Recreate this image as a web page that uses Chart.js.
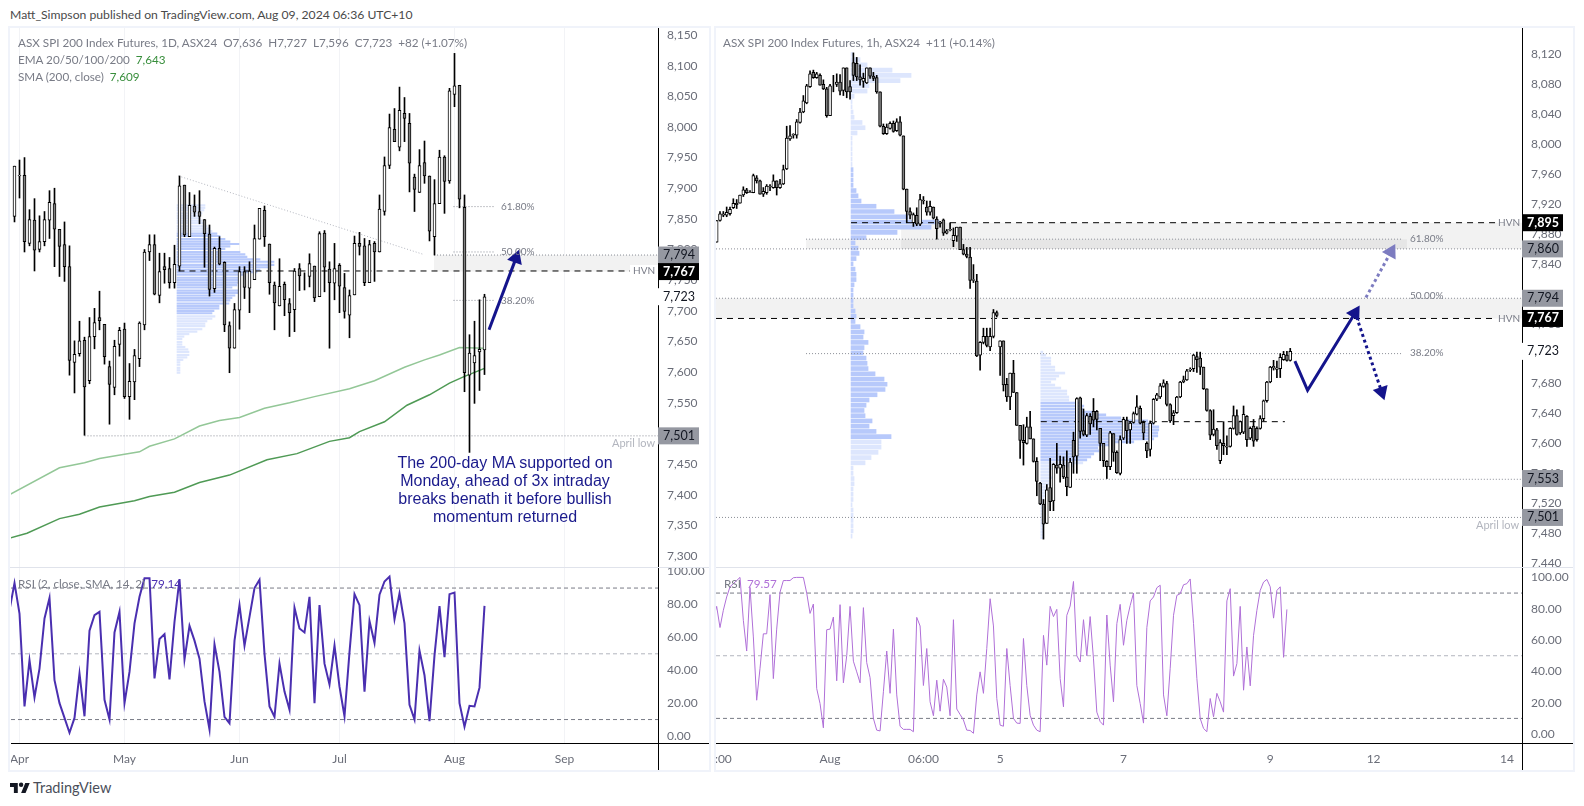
<!DOCTYPE html>
<html>
<head>
<meta charset="utf-8">
<title>ASX SPI 200 Index Futures</title>
<script src="https://cdn.jsdelivr.net/npm/chart.js@4"></script>
<style>
  html, body { margin: 0; padding: 0; background: #fff; width: 1584px; height: 806px; overflow: hidden; }
  body { font-family: Lato, sans-serif; color: #787b86; }
  canvas { position: absolute; }
  .frame { position: absolute; background: #f0f3fa; }
  .axis { position: absolute; background: #000; }
  .sep { position: absolute; background: #e0e3eb; height: 1px; }
  .txt { position: absolute; white-space: pre; font-size: 11.7px; line-height: 16px; z-index: 5; }
  .green { color: #388e3c; }
  #note { position: absolute; left: 360px; top: 454px; width: 290px; text-align: center; font: 16px/18px "Liberation Sans", sans-serif; color: #1a1a8c; z-index: 5; }
</style>
</head>
<body>
<div class="txt" style="left:10px;top:7px;font-size:12.2px;color:#4a4a4a;">Matt_Simpson published on TradingView.com, Aug 09, 2024 06:36 UTC+10</div>

<div class="frame" style="left:8px;top:26px;width:2px;height:746px"></div>
<div class="frame" style="left:8px;top:26px;width:702px;height:2px"></div>
<div class="frame" style="left:8px;top:770px;width:702px;height:2px"></div>
<div class="frame" style="left:709px;top:26px;width:2px;height:746px"></div>
<div class="frame" style="left:714px;top:26px;width:2px;height:746px"></div>
<div class="frame" style="left:714px;top:26px;width:861px;height:2px"></div>
<div class="frame" style="left:714px;top:770px;width:861px;height:2px"></div>
<div class="frame" style="left:1573px;top:26px;width:2px;height:746px"></div>

<canvas id="dailyChart" width="698" height="540" style="left:11px;top:28px"></canvas>
<canvas id="dailyRsi" width="698" height="202" style="left:11px;top:568px"></canvas>
<canvas id="hourChart" width="857" height="540" style="left:716px;top:28px"></canvas>
<canvas id="hourRsi" width="857" height="202" style="left:716px;top:568px"></canvas>

<div class="sep" style="left:10px;top:567px;width:699px"></div>
<div class="sep" style="left:716px;top:567px;width:857px"></div>
<div class="axis" style="left:658px;top:743px;width:1px;height:27px"></div>
<div class="axis" style="left:1522px;top:743px;width:1px;height:27px"></div>
<div class="axis" style="left:11px;top:743px;width:698px;height:1px"></div>
<div class="axis" style="left:716px;top:743px;width:857px;height:1px"></div>

<div class="txt" style="left:18px;top:34px">ASX SPI 200 Index Futures, 1D, ASX24  O7,636  H7,727  L7,596  C7,723  +82 (+1.07%)</div>
<div class="txt" style="left:18px;top:51px">EMA 20/50/100/200  <span class="green">7,643</span></div>
<div class="txt" style="left:18px;top:68px">SMA (200, close)  <span class="green">7,609</span></div>
<div class="txt" style="left:723px;top:34px">ASX SPI 200 Index Futures, 1h, ASX24  +11 (+0.14%)</div>
<div class="txt" style="left:18px;top:575px">RSI (2, close, SMA, 14, 2)  <span style="color:#4a2fb0">79.14</span></div>
<div class="txt" style="left:724px;top:575px">RSI  <span style="color:#b070d8">79.57</span></div>

<div id="note">The 200-day MA supported on<br>Monday, ahead of 3x intraday<br>breaks benath it before bullish<br>momentum returned</div>

<svg style="position:absolute;left:10px;top:781px" width="20" height="14" viewBox="0 2 36 22"><path fill="#131722" d="M14 22H7V11H0V4h14v18zM28 22h-8l7.5-18h8L28 22z"/><circle fill="#131722" cx="20" cy="7" r="4"/></svg>
<div class="txt" style="left:33px;top:780px;font-size:14.5px;color:#4a4e59">TradingView</div>

<script>
// daily candles, Apr to Aug
const dailyOpen = [7854,7920,7921,7810,7848,7800,7813,7848,7875,7833,
  7808,7772,7616,7630,7652,7586,7658,7689,7678,7609,
  7575,7645,7670,7560,7584,7622,7677,7796,7808,7725,
  7772,7769,7746,7773,7905,7821,7871,7862,7849,7825,
  7736,7802,7779,7676,7639,7701,7764,7737,7751,7817,
  7864,7809,7742,7708,7743,7712,7702,7769,7758,7756,
  7773,7723,7827,7768,7745,7774,7738,7693,7726,7810,
  7806,7746,7810,7796,7862,7937,7996,7967,8022,8006,
  7918,7893,7942,7920,7821,7875,7951,7912,8053,8068,
  7869,7595,7615,7633,7636];
const dailyHigh = [7936,7946,7950,7865,7883,7855,7862,7896,7900,7833,
  7845,7806,7651,7683,7657,7689,7704,7732,7678,7618,
  7652,7673,7680,7614,7637,7682,7800,7824,7824,7794,
  7794,7787,7807,7920,7905,7893,7889,7896,7849,7840,
  7804,7821,7780,7682,7712,7772,7772,7780,7840,7867,
  7871,7809,7747,7785,7747,7720,7769,7777,7762,7793,
  7773,7829,7831,7780,7810,7777,7761,7734,7822,7828,
  7818,7815,7813,7889,7951,8021,8030,8065,8048,8022,
  7923,7963,7977,7920,7914,7962,7953,8063,8120,8068,
  7889,7661,7683,7718,7727];
const dailyLow = [7845,7884,7796,7806,7765,7796,7806,7818,7772,7756,
  7748,7595,7566,7626,7497,7581,7638,7669,7613,7515,
  7563,7626,7557,7523,7555,7609,7669,7782,7726,7713,
  7745,7737,7737,7765,7821,7821,7854,7842,7771,7724,
  7730,7775,7666,7599,7639,7670,7720,7697,7751,7817,
  7805,7727,7669,7708,7692,7658,7666,7733,7734,7739,
  7715,7723,7731,7639,7718,7697,7688,7656,7726,7791,
  7741,7746,7748,7796,7856,7932,7976,7961,7976,7894,
  7862,7893,7908,7814,7791,7875,7859,7908,8033,7868,
  7568,7469,7549,7570,7596];
const dailyClose = [7936,7921,7813,7849,7799,7813,7849,7877,7833,7805,
  7772,7619,7629,7651,7576,7658,7681,7684,7625,7580,
  7642,7668,7560,7585,7627,7680,7796,7808,7727,7764,
  7767,7746,7776,7904,7824,7872,7861,7854,7826,7735,
  7802,7776,7677,7639,7702,7764,7738,7765,7818,7867,
  7821,7746,7713,7740,7718,7697,7765,7757,7758,7777,
  7721,7826,7771,7746,7769,7740,7699,7725,7810,7805,
  7746,7808,7796,7866,7937,7999,7976,8027,8014,7941,
  7898,7937,7920,7830,7875,7951,7911,8059,8067,7882,
  7599,7631,7627,7637,7723];

// moving averages (bar index, price)
const emaBars = [-1,9,14,17,22,25,27,32,37,41,45,50,55,60,67,72,78,82,85,89,94];
const emaValues = [7400,7444,7452,7459,7466,7470,7479,7491,7512,7521,7526,7541,7550,7560,7573,7586,7608,7620,7628,7640,7639];
const smaBars = [-1,2.5,9,13,17,24,27,32,37,43,50.5,56.5,63,67,69,74,78.5,83,87,90,94];
const smaValues = [7329,7337,7361,7368,7380,7390,7397,7404,7420,7432,7457,7467,7487,7493,7503,7519,7546,7563,7582,7593,7606];

// daily RSI, first value sits one bar before the first candle
const dailyRsiValues = [76.6,93,74.5,18,46,23.5,41,71.5,84,34,20,11,2,11,38,12,64,73.5,75.5,22,10,63,75.5,20,39,68.5,84.7,96,96,35,59,62,34.4,69.5,95.4,46.6,67,58,47,21,4,55.7,39,11.7,7.7,58,79.6,55,72.5,90,95,50,18,11.7,44,27,16,78,65.4,63,84.7,20,79.6,44,31.4,55,30,12,51,86.3,79.6,27,70,56.7,86,94,97,71,86.7,68.5,19,10,52,37,9,49,79,48,86.3,87.3,20,5.7,18.4,18,29.4,79.14];

// daily volume profile
const dailyVpPrices = [7872,7868,7864,7859,7855,7851,7847,7843,7838,7834,7830,7826,7822,7817,7813,7809,7805,7801,7796,7792,7788,7784,7780,7775,7771,7767,7763,7759,7754,7750,7746,7742,7738,7733,7729,7725,7721,7717,7712,7708,7704,7700,7696,7691,7687,7683,7679,7675,7670,7666,7662,7658,7654,7649,7645,7641,7637,7633,7628,7624,7620,7616,7612,7607,7603,7599];
const dailyVpVolumes = [28,28,27,25,22,23,25,27,30,33,35,40,43,48,53,62,53,48,63,68,70,83,97,97,92,83,80,67,63,62,62,60,55,62,62,58,55,53,52,42,42,37,35,38,35,30,28,28,25,20,12,7,5,5,5,8,11,12,12,10,6,3,3,3,3,3];

const dailyPriceTicks = [7300,7350,7400,7450,7500,7550,7600,7650,7700,7750,7800,7850,7900,7950,8000,8050,8100,8150];
const dailyMonthBars = [1,22,45,65,88,110];
const dailyMonthLabels = ['Apr','May','Jun','Jul','Aug','Sep'];
const dailyTagPrices = [7791,7764,7723,7496];
const dailyTagLabels = ['7,794','7,767','7,723','7,501'];
const dailyTagKinds = ['grey','black','plain','grey'];

// hourly candles
const hourOpen = [7869,7898,7905,7905,7907,7915,7921,7921,7932,7939,
  7936,7935,7955,7951,7933,7935,7944,7942,7951,7942,
  7947,7967,8007,8012,8012,8029,8043,8055,8077,8096,
  8089,8092,8080,8074,8038,8080,8080,8083,8072,8102,
  8077,8109,8108,8090,8084,8082,8102,8091,8089,8070,
  8024,8014,8021,8028,8018,8030,8011,7940,7910,7895,
  7905,7893,7925,7916,7909,7916,7900,7894,
  7899,7881,7885,7871,7877,7889,7859,7853,7849,7818,
  7817,7718,7735,7743,7729,7743,7775,7729,7737,7679,
  7662,7694,7668,7624,7604,7600,7622,7606,7576,7547,
  7519,7493,7541,7523,7571,7567,7571,7555,7541,7604,
  7583,7661,7617,7611,7636,7643,7643,7620,7600,7576,
  7569,7613,7588,7560,7607,7631,7618,7628,7639,7647,
  7628,7600,7592,7627,7659,7662,7676,7680,7652,7637,
  7641,7662,7682,7685,7698,7700,7716,7714,7702,7673,
  7644,7612,7618,7577,7600,7595,7596,7620,7637,7614,
  7615,7636,7607,7623,7620,7620,7633,7657,7682,7701,
  7699,7700,7712,7718,7711];
const hourHigh = [7898,7910,7910,7916,7916,7927,7926,7932,7943,7941,
  7938,7960,7958,7952,7942,7946,7946,7959,7951,7953,
  7972,8024,8025,8014,8033,8048,8065,8080,8098,8099,
  8096,8094,8086,8076,8080,8092,8094,8093,8102,8102,
  8085,8122,8116,8106,8095,8102,8102,8096,8092,8070,
  8027,8027,8030,8031,8034,8037,8011,7940,7915,7908,
  7915,7933,7930,7924,7924,7916,7903,7897,
  7900,7886,7895,7888,7889,7889,7866,7862,7862,7839,
  7826,7736,7754,7754,7754,7779,7777,7737,7737,7687,
  7694,7711,7668,7624,7625,7635,7643,7606,7581,7548,
  7525,7545,7580,7573,7600,7583,7582,7590,7580,7615,
  7661,7662,7646,7640,7640,7660,7644,7620,7600,7577,
  7616,7613,7590,7610,7635,7635,7629,7642,7664,7650,
  7630,7602,7630,7660,7667,7680,7685,7683,7653,7644,
  7663,7683,7690,7699,7701,7719,7722,7722,7702,7673,
  7645,7645,7620,7605,7629,7610,7621,7650,7645,7630,
  7650,7637,7622,7632,7622,7637,7658,7683,7703,7711,
  7710,7720,7723,7723,7727];
const hourLow = [7869,7897,7903,7903,7905,7914,7914,7921,7930,7934,
  7935,7935,7948,7933,7930,7933,7938,7941,7932,7941,
  7946,7966,8005,8008,8008,8028,8042,8054,8076,8088,
  8088,8079,8073,8036,8038,8070,8077,8066,8065,8062,
  8060,8085,8085,8079,8076,8081,8088,8085,8068,8023,
  8013,8013,8020,8016,8017,8011,7939,7895,7900,7890,
  7891,7891,7920,7905,7905,7900,7873,7889,
  7878,7880,7884,7863,7870,7859,7852,7848,7807,7815,
  7716,7698,7733,7729,7724,7741,7769,7691,7670,7656,
  7645,7668,7624,7580,7571,7599,7606,7575,7530,7518,
  7472,7493,7510,7510,7560,7548,7553,7530,7541,7560,
  7560,7607,7610,7609,7612,7622,7618,7577,7569,7553,
  7565,7576,7560,7558,7605,7600,7600,7627,7638,7626,
  7605,7581,7583,7626,7657,7660,7675,7650,7628,7625,
  7640,7661,7681,7684,7696,7696,7695,7692,7672,7643,
  7605,7610,7592,7573,7585,7585,7595,7619,7611,7612,
  7613,7596,7605,7596,7603,7619,7630,7655,7681,7698,
  7688,7688,7711,7710,7710];
const hourClose = [7898,7907,7907,7909,7913,7921,7919,7932,7939,7935,
  7935,7958,7951,7933,7937,7944,7943,7951,7942,7947,
  7966,8008,8011,8013,8030,8043,8058,8078,8094,8089,
  8094,8079,8074,8038,8078,8080,8083,8071,8102,8070,
  8070,8092,8090,8086,8088,8102,8091,8088,8070,8024,
  8014,8023,8028,8017,8030,8012,7940,7910,7905,7906,
  7893,7926,7924,7909,7917,7901,7887,7896,
  7881,7884,7886,7878,7889,7859,7853,7850,7818,7819,
  7717,7735,7743,7731,7743,7775,7771,7737,7678,7662,
  7694,7668,7624,7604,7601,7622,7606,7576,7549,7519,
  7492,7538,7522,7572,7567,7572,7555,7542,7575,7582,
  7660,7616,7612,7637,7626,7631,7632,7600,7577,7569,
  7614,7588,7561,7605,7632,7617,7627,7640,7649,7627,
  7614,7590,7627,7659,7665,7677,7681,7652,7630,7641,
  7662,7682,7685,7697,7699,7718,7712,7702,7673,7644,
  7611,7619,7597,7601,7597,7596,7620,7637,7612,7629,
  7639,7605,7620,7603,7605,7633,7657,7682,7702,7703,
  7701,7715,7719,7711,7723];

const hourRsiValues = [73.7,81.5,68,79,87.5,94,96,98,100,72.6,53,93.6,62,21.6,42,64,64,89,35.4,67,90.6,98,98,98,99.8,100,100,100,90,77,83,29,19.5,4,66.6,67,74.7,34,82.6,32.7,50,81.5,46.5,39.7,32.7,80.7,45.6,36,10,2.5,2,27,53,26,67,25,5,3,3,3,1.5,74.5,69,31,54.6,20.6,11.7,34.4,14.6,35,30,11.7,73,16,12.5,9,2.5,2.3,0.5,25,39.7,26,54.6,86.4,69,22.7,5.7,5,54.6,31,10,7,6.8,61,31,12,5.7,2.5,1.5,63,44,81.5,75,79.6,35.4,17.4,75.8,81.7,97.4,50,46,73,50,75,48,14,8,5.7,76,44,20.6,70.5,82.8,56.7,72.6,82,90,31,19.5,7,68,85,87.5,93.4,95,25,11.7,42,75.8,88.5,89.6,95.3,96,99,70.5,35.4,10,3.6,1.5,22.7,11,26,20.6,14,85,92.8,37,45,81.5,28,55.6,30.8,63,79,91.7,97,98.7,94,74,91.7,94,49,79.57];

// hourly volume profiles
const hourVpPrices = [8120,8113,8106,8099,8092,8085,8078,8071,8064,8057,8050,8043,8036,8029,8022,8015,8008,8001,7994,7987,7980,7973,7966,7959,7952,7945,7938,7931,7924,7917,7910,7903,7896,7889,7882,7875,7868,7861,7854,7847,7840,7833,7826,7819,7812,7805,7798,7791,7784,7777,7770,7763,7756,7749,7742,7735,7728,7721,7714,7707,7700,7693,7686,7679,7672,7665,7658,7651,7644,7637,7630,7623,7616,7609,7602,7595,7588,7581,7574,7567,7560,7553,7546,7539,7532,7525,7518,7511,7504,7497,7490,7483,7476];
const hourVpVolumes = [2,9,16,41,60,49,18,16,3,1,1,2,3,11,14,6,1,1,1,1,1,1,2,2,2,2,5,7,10,25,43,57,88,80,46,15,4,7,8,5,2,4,5,5,3,2,2,2,2,4,5,4,9,13,12,17,13,12,15,16,17,24,33,36,34,26,18,15,13,14,21,18,25,40,30,30,27,20,14,2,2,3,3,2,2,2,1,2,2,2,2,2,1];
const weekVpPrices = [7722,7718,7714,7710,7706,7702,7698,7694,7690,7686,7682,7678,7674,7670,7666,7662,7658,7654,7650,7646,7642,7638,7634,7630,7626,7622,7618,7614,7610,7606,7602,7598,7594,7590,7586,7582,7578,7574,7570,7566,7562,7558,7554,7550,7546,7542,7538,7534,7530,7526,7522,7518,7514,7510,7506,7502,7498,7494,7490,7486,7482,7478,7474];
const weekVpVolumes = [2,5,10,10,10,14,14,24,18,15,10,14,20,26,26,28,28,40,43,42,53,65,80,107,113,118,118,117,117,113,93,73,57,58,53,50,46,42,33,17,10,10,11,8,8,7,6,5,4,3,3,3,3,3,2,2,2,2,2,2,2,2,2];

const hourPriceTicks = [7440,7480,7520,7560,7600,7640,7680,7720,7760,7800,7840,7880,7920,7960,8000,8040,8080,8120];
const hourTimeBars = [2,34,62,85,122,166,197,237];
const hourTimeLabels = [':00','Aug','06:00','5','7','9','12','14'];
const hourTagPrices = [7895,7860,7794,7767,7723,7553,7501];
const hourTagLabels = ['7,895','7,860','7,794','7,767','7,723','7,553','7,501'];
const hourTagKinds = ['black','grey','grey','black','plain','grey','grey'];

const rsiTicks = [0,20,40,60,80,100];
const rsiLevels = [90,50,10];

const TICK_FONT = { family: 'Lato, sans-serif', size: 12 };
const TICK_COLOR = '#6a6d78';
const NAVY = '#14148c';

const dailyX = { min: -0.7, max: 128.7 };
const hourX = { min: -0.2, max: 241.5 };

function candleSets(open, high, low, close, bodyWidth, wickWidth) {
  const bars = open.map((_, i) => i);
  return [
    {
      type: 'bar', order: 2, grouped: false, barThickness: wickWidth,
      data: bars.map(i => ({ x: i, y: [low[i], high[i]] })),
      backgroundColor: '#000', borderWidth: 0,
    },
    {
      type: 'bar', order: 1, grouped: false, barThickness: bodyWidth,
      data: bars.map(i => ({ x: i, y: [open[i], close[i]] })),
      backgroundColor: bars.map(i => close[i] >= open[i] ? '#fff' : '#808080'),
      borderColor: '#000', borderWidth: 1, borderSkipped: false,
    },
  ];
}

function line(xs, ys, color, width, dash, order) {
  return {
    type: 'line', order: order === undefined ? 4 : order,
    data: xs.map((x, i) => ({ x, y: ys[i] })),
    borderColor: color, borderWidth: width, borderDash: dash || [],
    pointRadius: 0, tension: 0, fill: false,
  };
}

function band(x0, x1, top, bottom, color) {
  return {
    type: 'line', order: 9,
    data: [{ x: x0, y: top }, { x: x1, y: top }],
    borderWidth: 0, pointRadius: 0,
    fill: { value: bottom }, backgroundColor: color,
  };
}

function arrow(xs, ys, color, dash, rotation) {
  const set = line(xs, ys, color, 3, dash, 0);
  set.pointRadius = xs.map((_, i) => i === xs.length - 1 ? 6 : 0);
  set.pointStyle = 'triangle';
  set.rotation = rotation;
  set.pointBackgroundColor = color;
  set.pointBorderColor = color;
  set.borderJoinStyle = 'miter';
  return set;
}

function profile(prices, volumes, startBar, pxPerBar, thickness, areaFirst, areaLast, order) {
  return {
    type: 'bar', indexAxis: 'y', order: order || 6, grouped: false, barThickness: thickness,
    data: prices.map((p, i) => ({ y: p, x: [startBar, startBar + volumes[i] / pxPerBar] })),
    backgroundColor: prices.map((_, i) => i >= areaFirst && i <= areaLast ? '#b7c9fb' : '#dde6fd'),
    borderWidth: 0,
  };
}

// price tags on the axis and small labels inside the plot
function labelPlugin(tagPrices, tagLabels, tagKinds, notes) {
  return {
    id: 'labels',
    afterDraw(chart) {
      const { ctx, chartArea, scales } = chart;
      ctx.save();
      ctx.textBaseline = 'middle';
      notes.forEach(n => {
        const x = scales.x.getPixelForValue(n.bar);
        const y = scales.y.getPixelForValue(n.price);
        ctx.font = (n.size || 10) + 'px Lato, sans-serif';
        const w = ctx.measureText(n.text).width;
        if (n.clear) {
          ctx.fillStyle = '#fff';
          ctx.fillRect(x - 3, y - 6, w + 6, 12);
        }
        ctx.fillStyle = n.color || '#787b86';
        ctx.textAlign = 'left';
        ctx.fillText(n.text, x, y);
      });
      tagPrices.forEach((price, i) => {
        const y = scales.y.getPixelForValue(price);
        const kind = tagKinds[i];
        ctx.fillStyle = kind === 'black' ? '#000' : kind === 'grey' ? '#9598a1' : '#fff';
        ctx.fillRect(chartArea.right, y - 8.5, 41, 17);
        ctx.fillStyle = kind === 'black' ? '#fff' : '#131722';
        ctx.font = (kind === 'black' ? 'bold ' : '') + '12.5px Lato, sans-serif';
        ctx.textAlign = 'center';
        ctx.fillText(tagLabels[i], chartArea.right + 21, y);
      });
      ctx.restore();
    },
  };
}

function xAxis(range, bars, labels, showLabels, gridColor) {
  return {
    type: 'linear', min: range.min, max: range.max, offset: false,
    afterBuildTicks: s => { s.ticks = bars.map(v => ({ value: v })); },
    afterFit: s => { s.height = showLabels ? 27 : 0; s.paddingLeft = 0; s.paddingRight = 0; },
    grid: { color: gridColor, drawTicks: false, offset: false },
    border: { display: false },
    ticks: {
      display: showLabels, autoSkip: false, maxRotation: 0, padding: 9,
      font: TICK_FONT, color: TICK_COLOR,
      callback: v => labels[bars.indexOf(v)],
    },
  };
}

function yAxis(min, max, ticks, format, axisWidth, padding) {
  return {
    type: 'linear', position: 'right', min, max, offset: false,
    afterBuildTicks: s => { s.ticks = ticks.map(v => ({ value: v })); },
    afterFit: s => { s.width = axisWidth; s.paddingTop = 0; s.paddingBottom = 0; },
    grid: { display: false, drawTicks: false, offset: false },
    border: { display: true, color: '#000', width: 1 },
    ticks: { autoSkip: false, padding, font: TICK_FONT, color: TICK_COLOR, callback: format },
  };
}

function baseOptions(x, y) {
  return {
    responsive: false, animation: false, devicePixelRatio: 1,
    layout: { padding: 0, autoPadding: false },
    events: [],
    plugins: { legend: { display: false }, tooltip: { enabled: false } },
    scales: { x, y },
  };
}

const priceFormat = v => v.toLocaleString('en-US');
const rsiFormat = v => v.toFixed(2);
const GRID = '#f2f3f6';
const DOTTED = '#8a8d96';

// daily price panel
new Chart(document.getElementById('dailyChart'), {
  type: 'bar',
  data: {
    datasets: [
      band(83.9, dailyX.max, 7791, 7764, '#f2f2f2'),
      profile(dailyVpPrices, dailyVpVolumes, 32.5, 5, 1.5, 11, 42),
      line(emaBars, emaValues, '#93c797', 1.5),
      line(smaBars, smaValues, '#4f9a55', 1.5),
      line([32.8, 81.8], [7920, 7792], '#b2b5be', 1, [1, 2]),
      line([32.8, dailyX.max], [7765, 7765], '#000', 1, [6, 5], 3),
      line([83.9, dailyX.max], [7791, 7791], DOTTED, 1, [1, 2]),
      line([87.8, 96], [7870, 7870], DOTTED, 1, [1, 2]),
      line([87.8, 96], [7796, 7796], DOTTED, 1, [1, 2]),
      line([87.8, 96], [7717, 7717], DOTTED, 1, [1, 2]),
      line([14, dailyX.max], [7496, 7496], DOTTED, 1, [1, 2]),
      ...candleSets(dailyOpen, dailyHigh, dailyLow, dailyClose, 3, 1),
      arrow([94.9, 100.3], [7669, 7786], NAVY, [], 20),
    ],
  },
  options: baseOptions(
    xAxis(dailyX, dailyMonthBars, dailyMonthLabels, false, GRID),
    yAxis(7280.4, 8161.4, dailyPriceTicks, priceFormat, 51, 9)
  ),
  plugins: [labelPlugin(dailyTagPrices, dailyTagLabels, dailyTagKinds, [
    { bar: 97.3, price: 7870, text: '61.80%' },
    { bar: 97.3, price: 7796, text: '50.00%' },
    { bar: 97.3, price: 7717, text: '38.20%' },
    { bar: 123.7, price: 7765, text: 'HVN', clear: true },
    { bar: 119.5, price: 7484, text: 'April low', size: 11, color: '#b2b5be' },
  ])],
});

// daily RSI panel
new Chart(document.getElementById('dailyRsi'), {
  type: 'line',
  data: {
    datasets: [
      line([dailyX.min, dailyX.max], [rsiLevels[0], rsiLevels[0]], '#787b86', 1, [4, 3]),
      line([dailyX.min, dailyX.max], [rsiLevels[1], rsiLevels[1]], '#b2b5be', 1, [4, 3]),
      line([dailyX.min, dailyX.max], [rsiLevels[2], rsiLevels[2]], '#787b86', 1, [4, 3]),
      line(dailyRsiValues.map((_, i) => i - 1), dailyRsiValues, '#4a2fb0', 2, [], 1),
    ],
  },
  options: baseOptions(
    xAxis(dailyX, dailyMonthBars, dailyMonthLabels, true, GRID),
    yAxis(-4.26, 102.2, rsiTicks, rsiFormat, 51, 9)
  ),
});

// hourly price panel
new Chart(document.getElementById('hourChart'), {
  type: 'bar',
  data: {
    datasets: [
      band(hourX.min, hourX.max, 7794, 7767, 'rgba(0,0,0,0.05)'),
      band(55.3, hourX.max, 7895, 7860, 'rgba(0,0,0,0.05)'),
      band(26.8, 207, 7873, 7860, 'rgba(0,0,0,0.05)'),
      profile(hourVpPrices, hourVpVolumes, 40.3, 3.335, 4, 22, 73),
      profile(weekVpPrices, weekVpVolumes, 97.2, 3.335, 2, 17, 36),
      line([40.3, 234], [7895, 7895], '#000', 1, [6, 5], 3),
      line([hourX.min, 234], [7767, 7767], '#000', 1, [6, 5], 3),
      line([97.2, 170.4], [7629, 7629], '#000', 1, [6, 5], 3),
      line([26.8, 205.5], [7873, 7873], DOTTED, 1, [1, 2]),
      line([hourX.min, hourX.max], [7860, 7860], DOTTED, 1, [1, 2]),
      line([hourX.min, hourX.max], [7794, 7794], DOTTED, 1, [1, 2]),
      line([26.8, 205.5], [7720, 7720], DOTTED, 1, [1, 2]),
      line([107.7, hourX.max], [7552, 7552], DOTTED, 1, [1, 2]),
      line([hourX.min, hourX.max], [7501, 7501], DOTTED, 1, [1, 2]),
      ...candleSets(hourOpen, hourHigh, hourLow, hourClose, 3, 1),
      arrow([173.4, 177.2, 191.4], [7710, 7671, 7774], NAVY, [], 31.6),
      arrow([191.9, 199.4], [7769, 7669], NAVY, [3, 3], 161.6),
      arrow([194.7, 202.2], [7795, 7856], '#7d7cc0', [3, 3], 28.7),
    ],
  },
  options: baseOptions(
    xAxis(hourX, hourTimeBars, hourTimeLabels, false, 'rgba(0,0,0,0)'),
    yAxis(7433.4, 8155.3, hourPriceTicks, priceFormat, 51, 9)
  ),
  plugins: [labelPlugin(hourTagPrices, hourTagLabels, hourTagKinds, [
    { bar: 207.9, price: 7873, text: '61.80%' },
    { bar: 207.9, price: 7797, text: '50.00%' },
    { bar: 207.9, price: 7721, text: '38.20%' },
    { bar: 234.3, price: 7895, text: 'HVN' },
    { bar: 234.3, price: 7767, text: 'HVN' },
    { bar: 227.7, price: 7490, text: 'April low', size: 11, color: '#b2b5be' },
  ])],
});

// hourly RSI panel
new Chart(document.getElementById('hourRsi'), {
  type: 'line',
  data: {
    datasets: [
      line([hourX.min, hourX.max], [rsiLevels[0], rsiLevels[0]], '#787b86', 1, [4, 3]),
      line([hourX.min, hourX.max], [rsiLevels[1], rsiLevels[1]], '#b2b5be', 1, [4, 3]),
      line([hourX.min, hourX.max], [rsiLevels[2], rsiLevels[2]], '#787b86', 1, [4, 3]),
      line(hourRsiValues.map((_, i) => i - 1), hourRsiValues, '#b070d8', 1, [], 1),
    ],
  },
  options: baseOptions(
    xAxis(hourX, hourTimeBars, hourTimeLabels, true, 'rgba(0,0,0,0)'),
    yAxis(-5.7, 106, rsiTicks, rsiFormat, 51, 9)
  ),
});
</script>
</body>
</html>
